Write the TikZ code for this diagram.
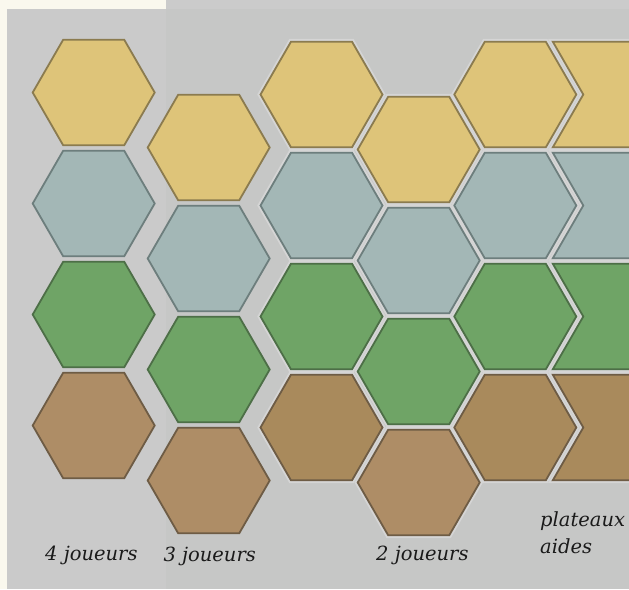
\documentclass[tikz,border=0pt]{standalone}
\usepackage{fontspec}
\setmainfont{DejaVu Serif}
\definecolor{cream}{HTML}{FAF8EE}
\definecolor{lpanel}{HTML}{CACACA}
\definecolor{rtop}{HTML}{CBCBCB}
\definecolor{rpanel}{HTML}{C6C7C6}
\definecolor{yelF}{HTML}{DEC479}
\definecolor{yelD}{HTML}{8B7B4F}
\definecolor{bluF}{HTML}{A3B7B6}
\definecolor{bluD}{HTML}{6D7E7D}
\definecolor{grnF}{HTML}{6FA466}
\definecolor{grnD}{HTML}{4D6F47}
\definecolor{brnF}{HTML}{AE8D66}
\definecolor{brnG}{HTML}{A98A5C}
\definecolor{brnD}{HTML}{6E5C45}
\definecolor{halo}{HTML}{D5D5D5}
\definecolor{ink}{HTML}{1A1A1A}
\newcommand\hexat[3]{\path[#1] (#2,#3) +(0:61) -- +(60:61) -- +(120:61) -- +(180:61) -- +(240:61) -- +(300:61) -- cycle;}
\newcommand\aideat[2]{\path[#1] (552.8,#2-52.8) -- (583.3,#2) -- (552.8,#2+52.8) -- (640,#2+52.8) -- (640,#2-52.8) -- cycle;}
\begin{document}
\begin{tikzpicture}[x=1pt,y=-1pt,
  yel/.style={fill=yelF,draw=yelD,line width=1.8pt},
  blu/.style={fill=bluF,draw=bluD,line width=1.8pt},
  grn/.style={fill=grnF,draw=grnD,line width=1.8pt},
  brn/.style={fill=brnF,draw=brnD,line width=1.8pt},
  brg/.style={fill=brnG,draw=brnD,line width=1.8pt},
  haloline/.style={draw=halo,line width=5.6pt},
  lbl/.style={font=\fontsize{19.5}{23}\selectfont\itshape,text=ink,inner sep=0pt,anchor=base west}]
\useasboundingbox (0,0) rectangle (629,589);
\clip (0,0) rectangle (629,589);
\fill[cream] (0,0) rectangle (629,589);
\fill[lpanel] (7,9) rectangle (166,589);
\fill[rtop] (166,0) rectangle (629,9);
\fill[rpanel] (166,9) rectangle (629,589);
% 4 joueurs
\hexat{yel}{93.7}{92.5}
\hexat{blu}{93.7}{203.5}
\hexat{grn}{93.7}{314.5}
\hexat{brn}{93.7}{425.5}
% 3 joueurs
\hexat{yel}{208.7}{147.5}
\hexat{blu}{208.7}{258.5}
\hexat{grn}{208.7}{369.5}
\hexat{brn}{208.7}{480.5}
% 2 joueurs + aides: halo first
\foreach \cx/\cy in {321.5/94.5,321.5/205.5,321.5/316.5,321.5/427.5,
                     418.7/149.5,418.7/260.5,418.7/371.5,418.7/482.5,
                     515.3/94.5,515.3/205.5,515.3/316.5,515.3/427.5}{\hexat{haloline}{\cx}{\cy}}
\foreach \cy in {94.5,205.5,316.5,427.5}{\aideat{haloline}{\cy}}
\hexat{yel}{321.5}{94.5}
\hexat{blu}{321.5}{205.5}
\hexat{grn}{321.5}{316.5}
\hexat{brg}{321.5}{427.5}
\hexat{yel}{418.7}{149.5}
\hexat{blu}{418.7}{260.5}
\hexat{grn}{418.7}{371.5}
\hexat{brn}{418.7}{482.5}
\hexat{yel}{515.3}{94.5}
\hexat{blu}{515.3}{205.5}
\hexat{grn}{515.3}{316.5}
\hexat{brg}{515.3}{427.5}
\aideat{yel}{94.5}
\aideat{blu}{205.5}
\aideat{grn}{316.5}
\aideat{brg}{427.5}
% labels
\node[lbl] (t4) at (45,560) {4 joueurs};
\node[lbl] (t3) at (163.3,561.5) {3 joueurs};
\node[lbl] (t2) at (376,560) {2 joueurs};
\node[lbl] (tp) at (540,526) {plateaux};
\node[lbl] (ta) at (540,553.5) {aides};
\end{tikzpicture}
\end{document}
